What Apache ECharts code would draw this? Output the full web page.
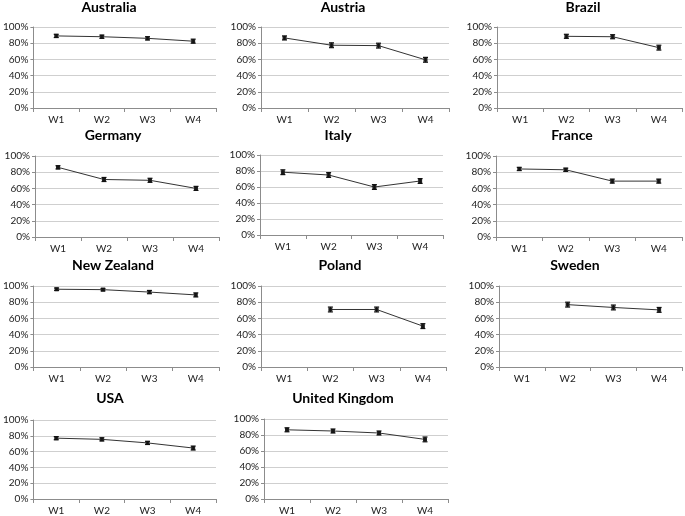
<!DOCTYPE html>
<html>
<head>
<meta charset="utf-8">
<script src="https://cdn.jsdelivr.net/npm/echarts@6/dist/echarts.min.js"></script>
<style>
html,body{margin:0;padding:0;background:#fff;}
#chart{width:685px;height:516px;}
</style>
</head>
<body>
<div id="chart"></div>
<script>
// ---- data ----
const categories = ['W1', 'W2', 'W3', 'W4'];
const yTicks = [0, 20, 40, 60, 80, 100];
const countries = ['Australia', 'Austria', 'Brazil', 'Germany', 'Italy', 'France',
  'New Zealand', 'Poland', 'Sweden', 'USA', 'United Kingdom'];

const australia = [89, 88, 86, 82.5];
const austria = [86.5, 77.5, 77, 59.5];
const brazil = [null, 88.5, 88, 74.5];
const germany = [86, 71, 70, 60];
const italy = [78.5, 75, 60, 67.5];
const france = [84, 83, 69, 69];
const newZealand = [96, 95.5, 92.5, 89];
const poland = [null, 71, 71, 50.5];
const sweden = [null, 77, 73.5, 70.5];
const usa = [77, 75.5, 71, 64.5];
const unitedKingdom = [86.5, 85, 82.5, 74.5];

const errAustralia = [2, 2, 2, 2.5];
const errAustria = [2.5, 3, 3, 3];
const errBrazil = [null, 2.5, 2.5, 3];
const errGermany = [2, 2.5, 2.5, 2.5];
const errItaly = [3, 3, 3, 3];
const errFrance = [2, 2, 2.5, 2.5];
const errNewZealand = [1.5, 1.5, 2, 2.5];
const errPoland = [null, 3, 3, 3];
const errSweden = [null, 3, 3, 3];
const errUsa = [2, 2, 2, 2.5];
const errUnitedKingdom = [2.5, 2.5, 2.5, 3];

const seriesValues = [australia, austria, brazil, germany, italy, france,
  newZealand, poland, sweden, usa, unitedKingdom];
const seriesErrors = [errAustralia, errAustria, errBrazil, errGermany, errItaly, errFrance,
  errNewZealand, errPoland, errSweden, errUsa, errUnitedKingdom];

// ---- layout (panel plot boxes in px: left, right, top, bottom; title center x, title top y) ----
const layout = [
  [31, 216, 27, 108, 109, 0],
  [261, 449, 27, 108, 343, 0],
  [497, 682, 27, 108, 583, 0],
  [35, 219, 156, 237, 113, 128],
  [260, 443, 155, 235, 338, 128],
  [496, 682, 156, 237, 572, 128],
  [33, 219, 286, 367, 113, 258],
  [261, 446, 286, 367, 340, 258],
  [499, 682, 286, 367, 575, 258],
  [31, 216, 420, 500, 110, 391],
  [264, 448, 419, 500, 343, 391]
];

const W = 685, H = 516;
const FONT = 'Lato, "Liberation Sans", sans-serif';
const option = {
  animation: false,
  backgroundColor: '#ffffff',
  title: [], grid: [], xAxis: [], yAxis: [], series: []
};

countries.forEach((name, i) => {
  const [l, r, t, b, tx, ty] = layout[i];
  option.title.push({
    text: name, left: tx, top: ty, textAlign: 'center', padding: 0,
    textStyle: { fontFamily: FONT, fontWeight: 'bold', fontSize: 14, color: '#000' }
  });
  option.grid.push({ left: l, top: t, width: r - l, height: b - t, containLabel: false });
  option.xAxis.push({
    type: 'category', gridIndex: i, data: categories, boundaryGap: true,
    axisLine: { show: true, lineStyle: { color: '#8c8c8c', width: 1 } },
    axisTick: { show: true, length: 4, lineStyle: { color: '#8c8c8c' } },
    axisLabel: { fontFamily: FONT, fontSize: 10, color: '#222', margin: 7 },
    splitLine: { show: false }
  });
  option.yAxis.push({
    type: 'value', gridIndex: i, min: yTicks[0], max: yTicks[yTicks.length - 1], interval: 20,
    axisLine: { show: true, lineStyle: { color: '#8c8c8c', width: 1 } },
    axisTick: { show: true, length: 3, lineStyle: { color: '#8c8c8c' } },
    axisLabel: { fontFamily: FONT, fontSize: 10, color: '#222', margin: 5, formatter: '{value}%' },
    splitLine: { show: true, lineStyle: { color: '#cfcfcf', width: 1 } }
  });
  option.series.push({
    type: 'line', xAxisIndex: i, yAxisIndex: i, data: seriesValues[i],
    symbol: 'rect', symbolSize: 4, connectNulls: false,
    lineStyle: { color: '#333', width: 1 },
    itemStyle: { color: '#222' },
    z: 3
  });
  const errData = [];
  seriesValues[i].forEach((v, k) => {
    if (v != null && seriesErrors[i][k] != null) {
      errData.push([k, v - seriesErrors[i][k], v + seriesErrors[i][k]]);
    }
  });
  option.series.push({
    type: 'custom', xAxisIndex: i, yAxisIndex: i, data: errData, z: 4,
    renderItem: function (params, api) {
      const x = api.value(0);
      const lo = api.coord([x, api.value(1)]);
      const hi = api.coord([x, api.value(2)]);
      const cap = 2.5;
      const st = { stroke: '#111', lineWidth: 1.2 };
      return {
        type: 'group',
        children: [
          { type: 'line', shape: { x1: lo[0], y1: lo[1], x2: hi[0], y2: hi[1] }, style: st },
          { type: 'line', shape: { x1: lo[0] - cap, y1: lo[1], x2: lo[0] + cap, y2: lo[1] }, style: st },
          { type: 'line', shape: { x1: hi[0] - cap, y1: hi[1], x2: hi[0] + cap, y2: hi[1] }, style: st }
        ]
      };
    }
  });
});

const chart = echarts.init(document.getElementById('chart'), null, { renderer: 'canvas', width: W, height: H });
chart.setOption(option);
</script>
</body>
</html>
